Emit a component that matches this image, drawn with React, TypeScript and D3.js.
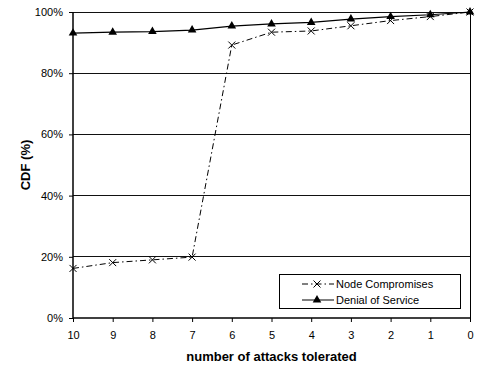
import { useEffect, useRef } from 'react';
import * as d3 from 'd3';

const attacks = [10, 9, 8, 7, 6, 5, 4, 3, 2, 1, 0];
const nodeCompromises = [16.2, 18.1, 19.0, 19.9, 89.2, 93.4, 93.8, 95.5, 97.2, 98.5, 100];
const denialOfService = [93.1, 93.4, 93.6, 94.1, 95.4, 96.1, 96.6, 97.7, 98.5, 99.1, 100];
const yTicks = [0, 20, 40, 60, 80, 100];

const width = 477;
const height = 369;

export default function App() {
  const svgRef = useRef<SVGSVGElement>(null);

  useEffect(() => {
    if (!svgRef.current) return;
    const svg = d3.select(svgRef.current);
    svg.selectAll('*').remove();

    const margin = { top: 12, right: 7, bottom: 51, left: 73 };
    const innerWidth = width - margin.left - margin.right;
    const innerHeight = height - margin.top - margin.bottom;
    const font = '"Liberation Sans", Arial, Helvetica, sans-serif';

    const g = svg.append('g')
      .attr('transform', `translate(${margin.left},${margin.top})`);

    const x = d3.scaleLinear().domain([10, 0]).range([0, innerWidth]);
    const y = d3.scaleLinear().domain([0, 100]).range([innerHeight, 0]);

    // Grid lines
    g.selectAll('.grid')
      .data(yTicks.filter(t => t > 0))
      .enter()
      .append('line')
      .attr('x1', 0)
      .attr('x2', innerWidth)
      .attr('y1', d => y(d))
      .attr('y2', d => y(d))
      .attr('stroke', '#111')
      .attr('stroke-width', 1)
      .attr('shape-rendering', 'crispEdges');

    // Right border
    g.append('line')
      .attr('x1', innerWidth).attr('x2', innerWidth)
      .attr('y1', 0).attr('y2', innerHeight)
      .attr('stroke', '#000')
      .attr('shape-rendering', 'crispEdges');

    // Axes
    const yAxis = g.append('g')
      .call(d3.axisLeft(y).tickValues(yTicks).tickSize(4).tickPadding(6).tickFormat(d => `${d}%`));
    const xAxis = g.append('g')
      .attr('transform', `translate(0,${innerHeight})`)
      .call(d3.axisBottom(x).tickValues(attacks).tickSize(4).tickPadding(9).tickFormat(d3.format('d')));

    [xAxis, yAxis].forEach(ax => {
      ax.select('.domain').attr('stroke', '#000').attr('stroke-width', 1.5);
      ax.selectAll('line').attr('stroke', '#000');
      ax.selectAll('text')
        .style('font-family', font)
        .style('font-size', '11px')
        .style('fill', '#000');
    });
    xAxis.select('.domain').attr('d', `M0,0H${innerWidth}`);
    yAxis.select('.domain').attr('d', `M0,${innerHeight}V0`);

    const pts = (vals: number[]) => attacks.map((a, i) => [x(a), y(vals[i])] as [number, number]);
    const line = d3.line();

    // Node compromises
    g.append('path')
      .attr('d', line(pts(nodeCompromises)))
      .attr('fill', 'none')
      .attr('stroke', '#000')
      .attr('stroke-width', 1)
      .attr('stroke-dasharray', '6,3,1.5,3');

    // Denial of service
    g.append('path')
      .attr('d', line(pts(denialOfService)))
      .attr('fill', 'none')
      .attr('stroke', '#000')
      .attr('stroke-width', 1.2);

    const cross = (sel: d3.Selection<SVGGElement, unknown, null, undefined>, cx: number, cy: number) => {
      sel.append('path')
        .attr('d', `M${cx - 3.5},${cy - 3.5}L${cx + 3.5},${cy + 3.5}M${cx - 3.5},${cy + 3.5}L${cx + 3.5},${cy - 3.5}`)
        .attr('stroke', '#000')
        .attr('stroke-width', 1)
        .attr('fill', 'none');
    };
    const tri = d3.symbol().type(d3.symbolTriangle).size(32);

    pts(nodeCompromises).forEach(([cx, cy]) => cross(g, cx, cy));
    pts(denialOfService).forEach(([cx, cy]) => {
      g.append('path')
        .attr('d', tri())
        .attr('transform', `translate(${cx},${cy})`)
        .attr('fill', '#000');
    });

    // Legend
    const lg = g.append('g').attr('transform', `translate(${279 - margin.left},${274 - margin.top})`);
    lg.append('rect')
      .attr('width', 181).attr('height', 34)
      .attr('fill', '#fff').attr('stroke', '#000')
      .attr('shape-rendering', 'crispEdges');
    const items = [
      { name: 'Node Compromises', dash: '6,3,1.5,3', marker: 'x' },
      { name: 'Denial of Service', dash: null, marker: 'tri' },
    ];
    items.forEach((it, i) => {
      const ly = 10 + i * 16;
      lg.append('line')
        .attr('x1', 23).attr('x2', 55)
        .attr('y1', ly).attr('y2', ly)
        .attr('stroke', '#000')
        .attr('stroke-dasharray', it.dash)
        .attr('stroke-width', 1);
      if (it.marker === 'x') cross(lg, 38, ly);
      else lg.append('path').attr('d', tri()).attr('transform', `translate(38,${ly})`).attr('fill', '#000');
      lg.append('text')
        .attr('x', 57).attr('y', ly)
        .attr('dy', '0.35em')
        .style('font-family', font)
        .style('font-size', '11px')
        .text(it.name);
    });

    // Axis titles
    svg.append('text')
      .attr('x', margin.left + innerWidth / 2)
      .attr('y', 361)
      .attr('text-anchor', 'middle')
      .style('font-family', font)
      .style('font-size', '13px')
      .style('font-weight', 'bold')
      .text('number of attacks tolerated');
    svg.append('text')
      .attr('transform', `translate(30,${margin.top + innerHeight / 2}) rotate(-90)`)
      .attr('text-anchor', 'middle')
      .style('font-family', font)
      .style('font-size', '13px')
      .style('font-weight', 'bold')
      .text('CDF (%)');
  }, []);

  return (
    <svg
      ref={svgRef}
      width={width}
      height={height}
      style={{ position: 'absolute', left: 0, top: 0, display: 'block' }}
    />
  );
}
